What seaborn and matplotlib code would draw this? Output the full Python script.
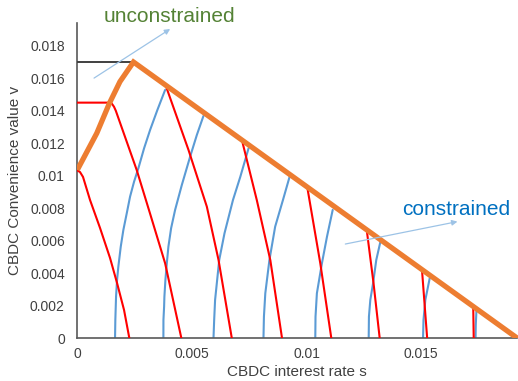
import matplotlib
matplotlib.use("Agg")
import matplotlib.pyplot as plt
import seaborn as sns
import pandas as pd

# ---------------- data ----------------
# orange envelope: unconstrained part then constrained part
orange_s = [0.0, 0.00085, 0.0014, 0.00186, 0.00245, 0.0192]
orange_v = [0.01036, 0.01262, 0.01446, 0.01579, 0.0170, 0.0]

# dark horizontal line at the kink
black_s = [0.0, 0.00245]
black_v = [0.0170, 0.0170]

# red curves (descending)
red_s = [
    [0.0, 0.000118, 0.000249, 0.000555, 0.000991, 0.001428, 0.001734, 0.002039, 0.002271],
    [0.0, 0.00135, 0.0015, 0.0016, 0.00168, 0.00259, 0.00317, 0.00383, 0.00454],
    [0.00387, 0.00485, 0.00565, 0.00616, 0.00674],
    [0.00718, 0.00783, 0.00842, 0.00893],
    [0.01003, 0.0106, 0.01108],
    [0.01263, 0.01292, 0.01319],
    [0.01504, 0.01526],
    [0.01727, 0.01729],
]
red_v = [
    [0.01033, 0.01023, 0.00993, 0.00851, 0.00679, 0.00494, 0.0034, 0.00174, 0.0],
    [0.0145, 0.0145, 0.01445, 0.01425, 0.014, 0.01036, 0.00769, 0.00462, 0.0],
    [0.0155, 0.01159, 0.0081, 0.00482, 0.0],
    [0.0122, 0.0085, 0.0048, 0.0],
    [0.0093, 0.0046, 0.0],
    [0.0066, 0.0034, 0.0],
    [0.0041, 0.0],
    [0.00185, 0.0],
]

# blue curves (ascending)
blue_s = [
    [0.001646, 0.001659, 0.00169, 0.001734, 0.00179, 0.001895, 0.002009, 0.002157,
     0.002301, 0.002476, 0.002664, 0.002913, 0.003175, 0.003493, 0.00383],
    [0.003755, 0.003757, 0.003786, 0.003799, 0.003843, 0.003904, 0.003974, 0.004092,
     0.004266, 0.004559, 0.004921, 0.005214, 0.005502],
    [0.00594, 0.00597, 0.00601, 0.00619, 0.00642, 0.00679, 0.00711, 0.00747],
    [0.00812, 0.00814, 0.0082, 0.00838, 0.00863, 0.00897, 0.00926],
    [0.01038, 0.01039, 0.01045, 0.01067, 0.01089, 0.01114],
    [0.01271, 0.01272, 0.01278, 0.0129, 0.01304, 0.01322],
    [0.01508, 0.0151, 0.01518, 0.01537],
    [0.01737, 0.01738, 0.01741],
]
blue_v = [
    [0.0, 0.001126, 0.00256, 0.003588, 0.004406, 0.005637, 0.006665, 0.007692,
     0.008714, 0.009637, 0.010462, 0.011692, 0.012818, 0.014049, 0.01528],
    [0.0, 0.001126, 0.001945, 0.00256, 0.003588, 0.004615, 0.005643, 0.006775,
     0.007901, 0.009434, 0.011175, 0.01251, 0.01368],
    [0.0, 0.00113, 0.00236, 0.00482, 0.00646, 0.00851, 0.00994, 0.01169],
    [0.0, 0.00133, 0.00277, 0.00482, 0.00687, 0.00851, 0.00994],
    [0.0, 0.00133, 0.00277, 0.00462, 0.00625, 0.0079],
    [0.0, 0.00133, 0.00236, 0.00338, 0.00482, 0.00594],
    [0.0, 0.00113, 0.00236, 0.00369],
    [0.0, 0.00082, 0.00174],
]

x_ticks = [0, 0.005, 0.01, 0.015]
x_tick_labels = ["0", "0.005", "0.01", "0.015"]
y_ticks = [0, 0.002, 0.004, 0.006, 0.008, 0.01, 0.012, 0.014, 0.016, 0.018]
y_tick_labels = ["0", "0.002", "0.004", "0.006", "0.008", "0.01", "0.012", "0.014", "0.016", "0.018"]

x_label = "CBDC interest rate s"
y_label = "CBDC Convenience value v"

# ---------------- build long tables ----------------
def long_table(s_lists, v_lists):
    rows = []
    for i, (ss, vv) in enumerate(zip(s_lists, v_lists)):
        for k, (a, b) in enumerate(zip(ss, vv)):
            rows.append({"s": a, "v": b, "curve": i, "order": k})
    return pd.DataFrame(rows)

red_df = long_table(red_s, red_v)
blue_df = long_table(blue_s, blue_v)
orange_df = pd.DataFrame({"s": orange_s, "v": orange_v, "curve": 0})
black_df = pd.DataFrame({"s": black_s, "v": black_v, "curve": 0})

# ---------------- plot ----------------
sns.set_style("white")
plt.rcParams["font.family"] = ["Liberation Sans", "DejaVu Sans"]

fig = plt.figure(figsize=(5.18, 3.81), dpi=100)
ax = fig.add_axes([77.3 / 518, 1 - 338.3 / 381, (517.5 - 77.3) / 518, (338.3 - 23) / 381])

text_col = "#404040"
tick_col = "#595959"

sns.lineplot(data=blue_df, x="s", y="v", units="curve", estimator=None, sort=False,
             color="#5B9BD5", linewidth=1.5, ax=ax, zorder=2)
sns.lineplot(data=red_df, x="s", y="v", units="curve", estimator=None, sort=False,
             color="#FF0000", linewidth=1.5, ax=ax, zorder=3)
sns.lineplot(data=black_df, x="s", y="v", units="curve", estimator=None, sort=False,
             color="#404040", linewidth=1.4, ax=ax, zorder=3)
sns.lineplot(data=orange_df, x="s", y="v", units="curve", estimator=None, sort=False,
             color="#ED7D31", linewidth=3.8, ax=ax, zorder=4,
             solid_capstyle="butt", solid_joinstyle="miter")

ax.set_xlim(0, 0.0192)
ax.set_ylim(0, 0.0194)
ax.set_xticks(x_ticks)
ax.set_xticklabels(x_tick_labels)
ax.set_yticks(y_ticks)
ax.set_yticklabels(y_tick_labels)

ax.tick_params(axis="x", direction="in", length=4, width=1, color=tick_col,
               labelsize=10, labelcolor=text_col, pad=6)
ax.tick_params(axis="y", direction="out", length=4, width=1, color=tick_col,
               labelsize=10, labelcolor=text_col, pad=5)

for side in ["top", "right"]:
    ax.spines[side].set_visible(False)
for side in ["left", "bottom"]:
    ax.spines[side].set_color(tick_col)
    ax.spines[side].set_linewidth(1.2)

ax.set_xlabel(x_label, fontsize=11, color=text_col)
ax.set_ylabel(y_label, fontsize=11, color=text_col)
ax.xaxis.set_label_coords((297 - 77.3) / 440.2, (338.3 - 372) / 315.3)
ax.xaxis.label.set_va("center")
ax.yaxis.set_label_coords((15 - 77.3) / 440.2, 0.5)
ax.yaxis.label.set_va("center")

# annotations
ax.text(0.0040, 0.01977, "unconstrained", color="#548235", fontsize=15,
        ha="center", va="center", clip_on=False)
ax.annotate("", xy=(0.00405, 0.01903), xytext=(0.00073, 0.01601),
            arrowprops=dict(arrowstyle="-|>", color="#9DC3E6", lw=0.9,
                            mutation_scale=8, shrinkA=0, shrinkB=0),
            annotation_clip=False)

ax.text(0.01654, 0.0079, "constrained", color="#0070C0", fontsize=15,
        ha="center", va="center")
ax.annotate("", xy=(0.01658, 0.00718), xytext=(0.01169, 0.0058),
            arrowprops=dict(arrowstyle="-|>", color="#9DC3E6", lw=0.9,
                            mutation_scale=8, shrinkA=0, shrinkB=0),
            zorder=5)

fig.savefig("out.png", dpi=100)
